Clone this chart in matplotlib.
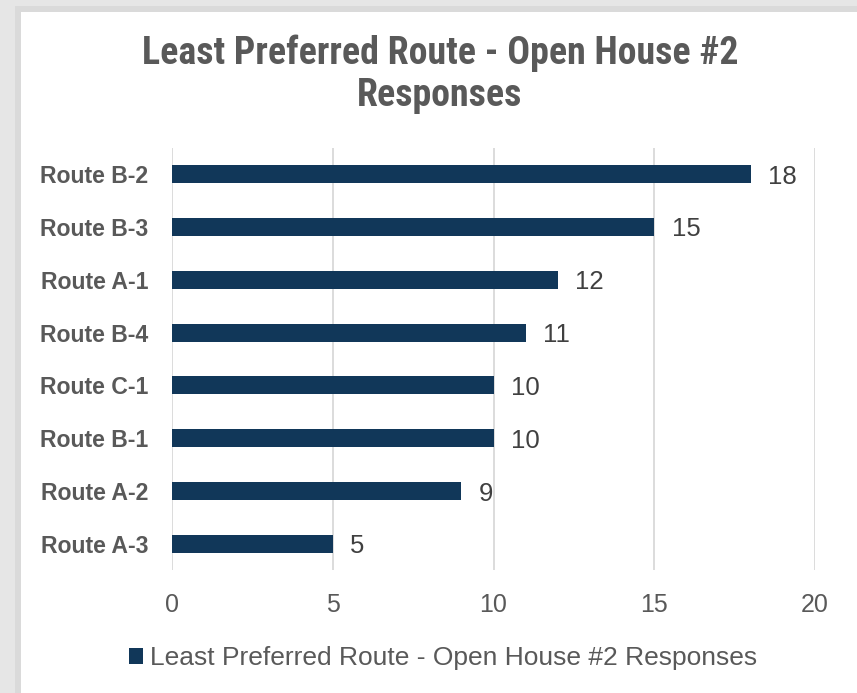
import matplotlib
matplotlib.use("Agg")
import matplotlib.pyplot as plt
from matplotlib.patches import Rectangle

categories = ["Route B-2", "Route B-3", "Route A-1", "Route B-4",
              "Route C-1", "Route B-1", "Route A-2", "Route A-3"]
values = [18, 15, 12, 11, 10, 10, 9, 5]
xticks = [0, 5, 10, 15, 20]
title = "Least Preferred Route - Open House #2\nResponses"
legend_label = "Least Preferred Route - Open House #2 Responses"

bar_color = "#113759"
grey = "#595959"
narrow = ["Liberation Sans Narrow", "Roboto Condensed", "Liberation Sans", "DejaVu Sans"]
plt.rcParams['font.family'] = ["Liberation Sans", "DejaVu Sans"]

W, H = 857, 693
fig = plt.figure(figsize=(W / 100, H / 100), dpi=100, facecolor="#e6e6e6")
# chart panel
fig.patches.append(Rectangle((15 / W, 0), 1, (H - 6) / H, transform=fig.transFigure,
                             facecolor="#dadada", edgecolor="none", zorder=-2))
fig.patches.append(Rectangle((21 / W, 0), 1, (H - 12) / H, transform=fig.transFigure,
                             facecolor="white", edgecolor="none", zorder=-1))

ax = fig.add_axes([172 / W, 1 - 570.4 / H, (815 - 172) / W, (570.4 - 147.6) / H])
ax.set_zorder(2)
ax.set_facecolor("none")
ypos = list(range(len(categories)))
ax.barh(ypos, values, height=0.34, color=bar_color, zorder=3)
ax.set_ylim(len(categories) - 0.5, -0.5)
ax.set_xlim(0, 20)
ax.set_xticks(xticks)
ax.set_xticklabels([str(t) for t in xticks])
ax.set_yticks(ypos)
ax.set_yticklabels(categories, fontweight="bold", fontsize=16.6, color=grey)
ax.tick_params(axis="x", length=0, pad=16, labelsize=18, labelcolor=grey)
ax.tick_params(axis="y", length=0, pad=17)
ax.grid(axis="x", color="#d9d9d9", linewidth=1.3, zorder=0)
for s in ax.spines.values():
    s.set_visible(False)

for y, v in zip(ypos, values):
    ax.annotate(str(v), (v, y), xytext=(12.5, 0), textcoords="offset points",
                va="center_baseline", ha="left", fontsize=18.5, color="#404040")

fig.text(440 / W, 1 - 74.5 / H, title, ha="center", va="center", fontfamily=narrow,
         fontweight="bold", fontsize=27.3, color=grey, linespacing=1.17)

h = Rectangle((0, 0), 1, 1, facecolor=bar_color)
fig.legend([h], [legend_label], loc="center", bbox_to_anchor=(443 / W, 1 - 658 / H),
           frameon=False, fontsize=19, labelcolor=grey, handlelength=0.55,
           handleheight=0.55, handletextpad=0.25)

fig.savefig("out.png", dpi=100, facecolor=fig.get_facecolor())
